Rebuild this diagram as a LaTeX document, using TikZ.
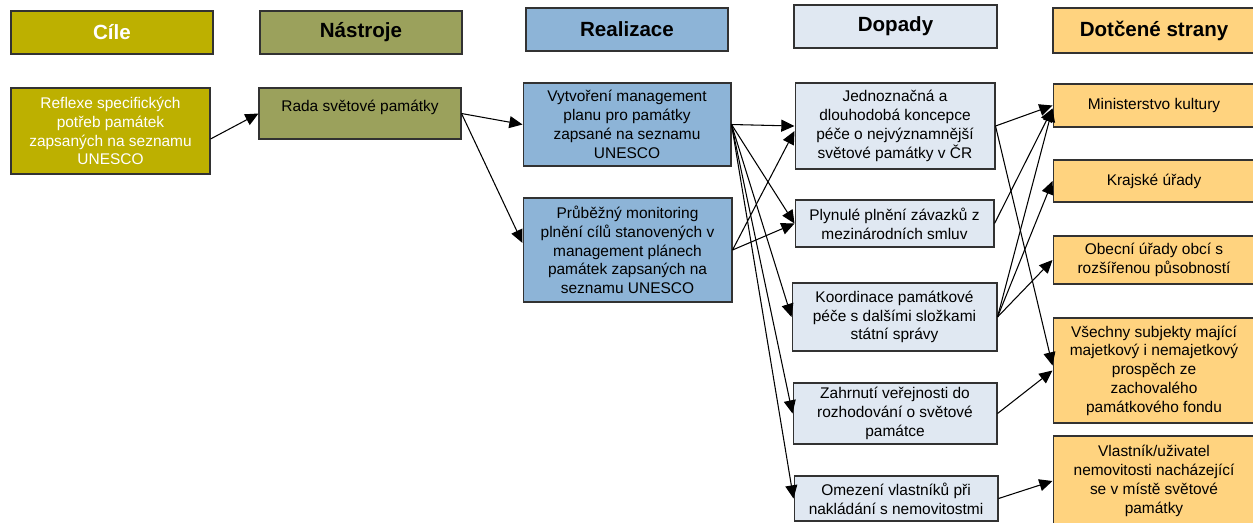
\documentclass[tikz,border=0pt]{standalone}
\usepackage{fontspec}
\setmainfont{Liberation Sans}
\usetikzlibrary{positioning}
\usetikzlibrary{arrows.meta}
\definecolor{cilecol}{RGB}{189,176,0}
\definecolor{nastrojecol}{RGB}{155,161,92}
\definecolor{realcol}{RGB}{141,180,215}
\definecolor{dopadcol}{RGB}{224,232,242}
\definecolor{stranycol}{RGB}{255,211,127}
\definecolor{edgecol}{RGB}{50,50,50}
\tikzstyle{box} = [rectangle, draw=edgecol, line width=0.6pt, align=center, inner sep=2pt, font=\fontsize{8.8}{10.7}\selectfont]
\tikzstyle{head} = [box, minimum height=0.86cm, line width=0.8pt, font=\fontsize{11.7}{14}\selectfont\bfseries]
\tikzstyle{cil} = [fill=cilecol, text=white]
\tikzstyle{nastroj} = [fill=nastrojecol]
\tikzstyle{realizace} = [fill=realcol]
\tikzstyle{dopad} = [fill=dopadcol]
\tikzstyle{strana} = [fill=stranycol, minimum width=4.04cm]
\tikzstyle{arrow} = [line width=0.6pt,->,>={Triangle[length=7.5pt,width=6.8pt]}]

\begin{document}
\begin{tikzpicture}[x=0.02cm, y=-0.02cm]

        \useasboundingbox (0,0) rectangle (1253,522);

        % Column headers
        \node[head, cil, minimum width=4.04cm] (hcile) at (112,32.5) {Cíle};
        \node[head, nastroj, minimum width=4.04cm] (hnastroje) at (361,32.5) {Nástroje};
        \node[head, realizace, minimum width=4.04cm] (hreal) at (627,29.5) {Realizace};
        \node[head, dopad, minimum width=4.06cm] (hdopady) at (895.5,26.5) {Dopady};
        \node[head, strana, minimum height=0.9cm] (hstrany) at (1154,30.5) {Dotčené strany};

        % Cile and nastroje
        \node[box, cil, minimum width=3.98cm, minimum height=1.72cm] (refl) at (110.5,131) {Reflexe specifických\\potřeb památek\\zapsaných na seznamu\\UNESCO};
        \node[box, nastroj, minimum width=4.04cm, minimum height=1.02cm, text depth=9pt] (rada) at (360,113.5) {Rada světové památky};

        % Realizace
        \node[box, realizace, minimum width=4.16cm, minimum height=1.66cm] (vytv) at (627,124.5) {Vytvoření management\\planu pro památky\\zapsané na seznamu\\UNESCO};
        \node[box, realizace, minimum width=4.18cm, minimum height=2.08cm] (prub) at (627.5,250) {Průběžný monitoring\\plnění cílů stanovených v\\management plánech\\památek zapsaných na\\seznamu UNESCO};

        % Dopady
        \node[box, dopad, minimum width=4cm, minimum height=1.72cm] (jedn) at (895,126) {Jednoznačná a\\dlouhodobá koncepce\\péče o nejvýznamnější\\světové památky v ČR};
        \node[box, dopad, minimum width=3.98cm, minimum height=0.94cm] (plyn) at (894.5,223.5) {Plynulé plnění závazků z\\mezinárodních smluv};
        \node[box, dopad, minimum width=4.1cm, minimum height=1.36cm] (koord) at (894.5,317) {Koordinace památkové\\péče s dalšími složkami\\státní správy};
        \node[box, dopad, minimum width=4.08cm, minimum height=1.22cm] (zahr) at (895,413.5) {Zahrnutí veřejnosti do\\rozhodování o světové\\památce};
        \node[box, dopad, minimum width=4.08cm, minimum height=0.9cm] (omez) at (896,498.5) {Omezení vlastníků při\\nakládání s nemovitostmi};

        % Dotcene strany
        \node[box, strana, minimum height=0.86cm] (mink) at (1154,105.5) {Ministerstvo kultury};
        \node[box, strana, minimum height=0.84cm] (kraj) at (1154,181) {Krajské úřady};
        \node[box, strana, minimum height=0.96cm] (obec) at (1154,260) {Obecní úřady obcí s\\rozšířenou působností};
        \node[box, strana, minimum height=2.1cm] (vsech) at (1154,370.5) {Všechny subjekty mající\\majetkový i nemajetkový\\prospěch ze\\zachovalého\\památkového fondu};
        \node[box, strana, minimum height=1.8cm] (vlast) at (1154,481) {Vlastník/uživatel\\nemovitosti nacházející\\se v místě světové\\památky};

        % Connections
        \draw[arrow] ([yshift=-0.16cm]refl.east) -- (rada.west);
        \draw[arrow] (rada.east) -- (vytv.west);
        \draw[arrow] (rada.east) -- ([yshift=0.14cm]prub.west);

        \draw[arrow] (vytv.east) -- (jedn.west);
        \draw[arrow] (vytv.east) -- (plyn.west);
        \draw[arrow] (vytv.east) -- (koord.west);
        \draw[arrow] (vytv.east) -- (zahr.west);
        \draw[arrow] (vytv.east) -- (omez.west);
        \draw[arrow] (prub.east) -- ([yshift=-0.1cm]jedn.west);
        \draw[arrow] (prub.east) -- (plyn.west);

        \draw[arrow] (jedn.east) -- (mink.west);
        \draw[arrow] (jedn.east) -- ([yshift=0.1cm]vsech.west);
        \draw[arrow] (plyn.east) -- ([yshift=-0.06cm]mink.west);
        \draw[arrow] (koord.east) -- ([yshift=-0.06cm]mink.west);
        \draw[arrow] (koord.east) -- (kraj.west);
        \draw[arrow] (koord.east) -- (obec.west);
        \draw[arrow] (zahr.east) -- (vsech.west);
        \draw[arrow] (omez.east) -- (vlast.west);

    \end{tikzpicture}
\end{document}
